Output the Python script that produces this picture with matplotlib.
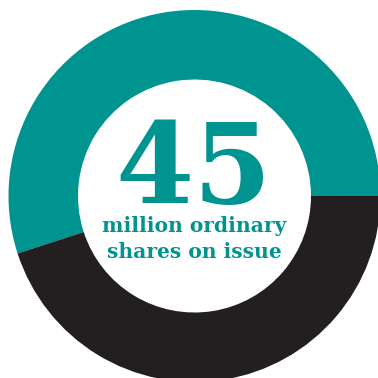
import matplotlib.pyplot as plt

# share split (teal = 55, dark = 45)
labels = ["teal", "dark"]
values = [55, 45]
colors = ["#009490", "#231f20"]

big_number = "45"
caption = ["million ordinary", "shares on issue"]

fig = plt.figure(figsize=(3.78, 3.78), dpi=100)
ax = fig.add_axes([0, 0, 1, 1])

cx, cy = 194.5, 182
r_out, r_in = 186, 116.5
ax.pie(values, colors=colors, startangle=0, counterclock=True,
       center=(cx, cy), radius=r_out,
       wedgeprops=dict(width=r_out - r_in, linewidth=0))
ax.set_xlim(0, 378)
ax.set_ylim(0, 378)
ax.set_aspect("equal")
ax.axis("off")

ax.text(cx - 1, 378 - 203, big_number, fontsize=81, fontweight="bold",
        family="DejaVu Serif", color=colors[0], ha="center", va="baseline")
ax.text(cx, 378 - 232, caption[0], fontsize=14.6, fontweight="bold",
        family="DejaVu Serif", color=colors[0], ha="center", va="baseline")
ax.text(cx, 378 - 258, caption[1], fontsize=14.6, fontweight="bold",
        family="DejaVu Serif", color=colors[0], ha="center", va="baseline")

fig.savefig("out.png", dpi=100)
